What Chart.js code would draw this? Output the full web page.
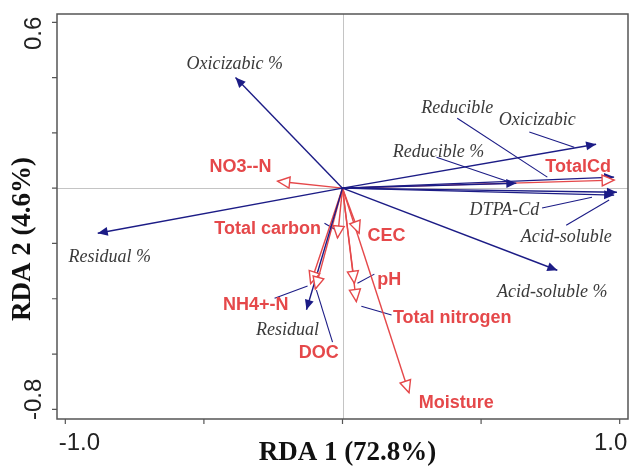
<!DOCTYPE html>
<html>
<head>
<meta charset="utf-8">
<script src="https://cdn.jsdelivr.net/npm/chart.js@4.4.1/dist/chart.umd.min.js"></script>
<style>
  html, body { margin: 0; padding: 0; background: #fff; }
  #wrap { width: 630px; height: 467px; }
</style>
</head>
<body>
<div id="wrap"><canvas id="rdaCanvas"></canvas></div>
<script>
// response variables (blue arrows, filled heads)
const speciesNames = ['Oxicizabic %', 'Residual %', 'Oxicizabic', 'Reducible', 'Reducible %', 'DTPA-Cd', 'Acid-soluble', 'Acid-soluble %', 'Residual'];
const speciesX = [-0.386, -0.883, 0.915, 0.980, 0.627, 0.980, 0.990, 0.775, -0.130];
const speciesY = [0.400, -0.163, 0.159, 0.040, 0.018, -0.025, -0.015, -0.297, -0.440];
const speciesLabelX = [-0.389, -0.840, 0.703, 0.414, 0.346, 0.584, 0.807, 0.757, -0.198];
const speciesLabelY = [0.448, -0.250, 0.246, 0.289, 0.130, -0.080, -0.177, -0.376, -0.514];
// leader lines from label to arrow (null = none)
const speciesLeader = [null, null, [0.674, 0.203, 0.836, 0.148], [0.414, 0.253, 0.739, 0.040], [0.339, 0.112, 0.602, 0.022], [0.720, -0.072, 0.900, -0.033], [0.807, -0.134, 0.962, -0.043], null, null];

// explanatory variables (red arrows, open heads)
const envNames = ['NO3--N', 'TotalCd', 'Total carbon', 'CEC', 'NH4+-N', 'DOC', 'pH', 'Total nitrogen', 'Moisture'];
const envX = [-0.234, 0.980, -0.018, 0.060, -0.115, -0.098, 0.043, 0.050, 0.240];
const envY = [0.025, 0.029, -0.180, -0.163, -0.345, -0.365, -0.344, -0.410, -0.740];
const envLabelX = [-0.368, 0.850, -0.270, 0.159, -0.313, -0.086, 0.169, 0.396, 0.410];
const envLabelY = [0.076, 0.076, -0.148, -0.174, -0.423, -0.597, -0.333, -0.470, -0.778];
const envLeader = [null, null, [-0.065, -0.127, -0.022, -0.152], null, [-0.245, -0.398, -0.126, -0.354], [-0.036, -0.557, -0.094, -0.369], [0.115, -0.311, 0.054, -0.344], [0.068, -0.427, 0.177, -0.459], null];

const xTicks = [-1.0, -0.5, 0, 0.5, 1.0];
const yTicks = [0.6, 0.4, 0.2, 0, -0.2, -0.4, -0.6, -0.8];
const xTickLabels = ['-1.0', '', '', '', '1.0'];
const yTickLabels = ['0.6', '', '', '', '', '', '', '-0.8'];

const BLUE = '#1c1c86';
const RED = '#e5484a';

const datasets = [];
speciesX.forEach((x, i) => {
  datasets.push({ data: [{ x: 0, y: 0 }, { x: x, y: speciesY[i] }], borderColor: BLUE, borderWidth: 1.4 });
});
envX.forEach((x, i) => {
  datasets.push({ data: [{ x: 0, y: 0 }, { x: x, y: envY[i] }], borderColor: RED, borderWidth: 1.4 });
});
speciesLeader.concat(envLeader).forEach(l => {
  if (!l) return;
  datasets.push({ data: [{ x: l[0], y: l[1] }, { x: l[2], y: l[3] }], borderColor: BLUE, borderWidth: 1.1 });
});
datasets.forEach(d => { d.showLine = true; d.pointRadius = 0; d.fill = false; });

function arrowHead(ctx, x0, y0, x1, y1, len, half, open, color) {
  const a = Math.atan2(y1 - y0, x1 - x0);
  const bx = x1 - len * Math.cos(a), by = y1 - len * Math.sin(a);
  const px = -Math.sin(a) * half, py = Math.cos(a) * half;
  ctx.beginPath();
  ctx.moveTo(x1, y1);
  ctx.lineTo(bx + px, by + py);
  ctx.lineTo(bx - px, by - py);
  ctx.closePath();
  if (open) {
    ctx.fillStyle = '#fff';
    ctx.fill();
    ctx.strokeStyle = color;
    ctx.lineWidth = 1.4;
    ctx.stroke();
  } else {
    ctx.fillStyle = color;
    ctx.fill();
  }
}

const biplot = {
  id: 'biplot',
  beforeDatasetsDraw(chart) {
    const { ctx, chartArea: ca, scales: { x, y } } = chart;
    ctx.save();
    ctx.strokeStyle = '#c4c4c4';
    ctx.lineWidth = 1;
    const x0 = Math.round(x.getPixelForValue(0)) + 0.5;
    const y0 = Math.round(y.getPixelForValue(0)) + 0.5;
    ctx.beginPath();
    ctx.moveTo(x0, ca.top); ctx.lineTo(x0, ca.bottom);
    ctx.moveTo(ca.left, y0); ctx.lineTo(ca.right, y0);
    ctx.stroke();
    ctx.restore();
  },
  afterDatasetsDraw(chart) {
    const { ctx, chartArea: ca, scales: { x, y } } = chart;
    const ox = x.getPixelForValue(0), oy = y.getPixelForValue(0);
    ctx.save();
    speciesX.forEach((v, i) => {
      arrowHead(ctx, ox, oy, x.getPixelForValue(v), y.getPixelForValue(speciesY[i]), 10, 4.5, false, BLUE);
    });
    envX.forEach((v, i) => {
      arrowHead(ctx, ox, oy, x.getPixelForValue(v), y.getPixelForValue(envY[i]), 12, 5.5, true, RED);
    });

    ctx.textAlign = 'center';
    ctx.textBaseline = 'middle';
    ctx.font = 'italic 18px "Liberation Serif", serif';
    ctx.fillStyle = '#3a3a3a';
    speciesNames.forEach((n, i) => {
      ctx.fillText(n, x.getPixelForValue(speciesLabelX[i]), y.getPixelForValue(speciesLabelY[i]));
    });
    ctx.font = 'bold 18px "Liberation Sans", Arial, sans-serif';
    ctx.fillStyle = RED;
    envNames.forEach((n, i) => {
      ctx.fillText(n, x.getPixelForValue(envLabelX[i]), y.getPixelForValue(envLabelY[i]));
    });

    // frame
    ctx.strokeStyle = '#555';
    ctx.lineWidth = 1.5;
    ctx.strokeRect(ca.left, ca.top, ca.right - ca.left, ca.bottom - ca.top);

    // tick marks
    ctx.lineWidth = 1.2;
    ctx.beginPath();
    xTicks.forEach(t => {
      const px = x.getPixelForValue(t);
      ctx.moveTo(px, ca.bottom); ctx.lineTo(px, ca.bottom + 5);
    });
    yTicks.forEach(t => {
      const py = y.getPixelForValue(t);
      ctx.moveTo(ca.left, py); ctx.lineTo(ca.left - 5, py);
    });
    ctx.stroke();

    // tick labels
    ctx.fillStyle = '#222';
    ctx.font = '24px "Liberation Sans", Arial, sans-serif';
    xTicks.forEach((t, i) => {
      if (!xTickLabels[i]) return;
      const shift = t < 0 ? 14 : -9;
      ctx.fillText(xTickLabels[i], x.getPixelForValue(t) + shift, ca.bottom + 24);
    });
    yTicks.forEach((t, i) => {
      if (!yTickLabels[i]) return;
      const shift = t > 0 ? 11 : -10;
      ctx.save();
      ctx.translate(34, y.getPixelForValue(t) + shift);
      ctx.rotate(-Math.PI / 2);
      ctx.fillText(yTickLabels[i], 0, 0);
      ctx.restore();
    });

    // axis titles
    ctx.fillStyle = '#111';
    ctx.font = 'bold 27px "Liberation Serif", "Times New Roman", serif';
    ctx.fillText('RDA 1 (72.8%)', (ca.left + ca.right) / 2 + 5, 453);
    ctx.save();
    ctx.translate(23, 239);
    ctx.rotate(-Math.PI / 2);
    ctx.fillText('RDA 2 (4.6%)', 0, 0);
    ctx.restore();
    ctx.restore();
  }
};

new Chart(document.getElementById('rdaCanvas').getContext('2d'), {
  type: 'scatter',
  data: { datasets: datasets },
  options: {
    responsive: true,
    maintainAspectRatio: false,
    animation: false,
    layout: { padding: { left: 57, right: 2, top: 14, bottom: 48 } },
    scales: {
      x: { type: 'linear', min: -1.03, max: 1.03, display: false },
      y: { type: 'linear', min: -0.835, max: 0.63, display: false }
    },
    plugins: {
      legend: { display: false },
      tooltip: { enabled: false }
    }
  },
  plugins: [biplot]
});
</script>
</body>
</html>
